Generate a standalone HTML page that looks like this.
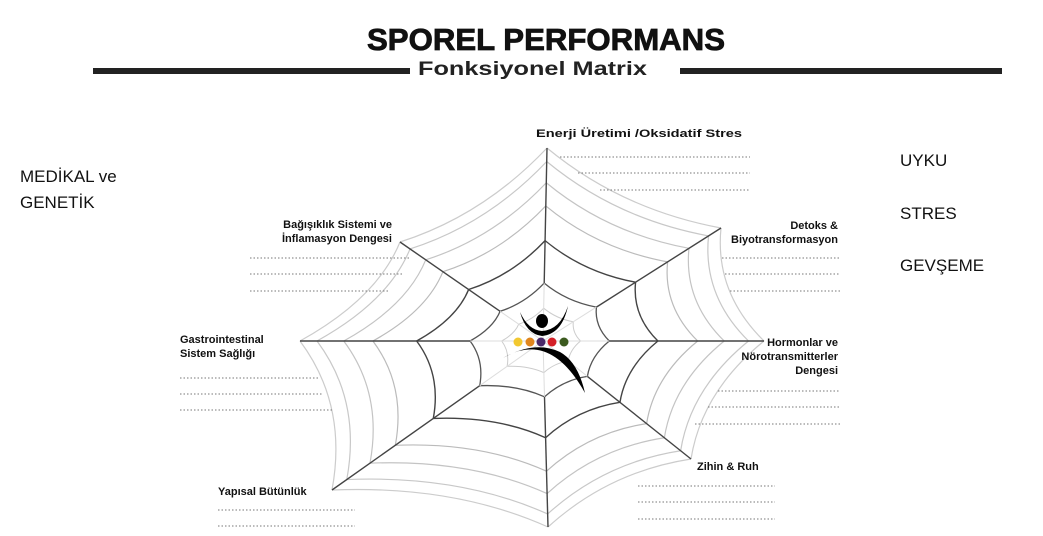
<!DOCTYPE html>
<html><head><meta charset="utf-8"><style>
html,body{margin:0;padding:0;background:#fff;width:1043px;height:536px;overflow:hidden}
svg{display:block}
text{font-family:"Liberation Sans","DejaVu Sans",sans-serif}
.b{font-weight:bold;font-size:11px;fill:#111}
.n{font-size:17px;fill:#111}
.d{stroke:#777;stroke-width:1;stroke-dasharray:1.5 2}
</style></head><body>
<svg id="s" width="1043" height="536" viewBox="0 0 1043 536" xmlns="http://www.w3.org/2000/svg">
<text x="367" y="50" font-size="31" font-weight="bold" textLength="358" lengthAdjust="spacingAndGlyphs" fill="#111" stroke="#111" stroke-width="0.8">SPOREL PERFORMANS</text>
<rect x="93" y="68" width="317" height="6" fill="#222"/>
<rect x="680" y="68" width="322" height="6" fill="#222"/>
<text x="418" y="75" font-size="19" font-weight="bold" textLength="229" lengthAdjust="spacingAndGlyphs" fill="#222">Fonksiyonel Matrix</text>
<g id="web"></g>
<text class="n" x="20" y="182">MEDİKAL ve</text>
<text class="n" x="20" y="208">GENETİK</text>
<text class="n" x="900" y="166">UYKU</text>
<text class="n" x="900" y="219">STRES</text>
<text class="n" x="900" y="271">GEVŞEME</text>
<text class="b" x="536" y="137" textLength="206" lengthAdjust="spacingAndGlyphs">Enerji Üretimi /Oksidatif Stres</text>
<line class="d" x1="560" y1="157" x2="750" y2="157"/><line class="d" x1="578" y1="173" x2="750" y2="173"/><line class="d" x1="600" y1="190" x2="750" y2="190"/>
<text class="b" x="392" y="228" text-anchor="end">Bağışıklık Sistemi ve</text>
<text class="b" x="392" y="242" text-anchor="end">İnflamasyon Dengesi</text>
<line class="d" x1="250" y1="258" x2="410" y2="258"/><line class="d" x1="250" y1="274" x2="403" y2="274"/><line class="d" x1="250" y1="291" x2="389" y2="291"/>
<text class="b" x="838" y="229" text-anchor="end">Detoks &amp;</text>
<text class="b" x="838" y="243" text-anchor="end">Biyotransformasyon</text>
<line class="d" x1="722" y1="258" x2="840" y2="258"/><line class="d" x1="725" y1="274" x2="840" y2="274"/><line class="d" x1="730" y1="291" x2="840" y2="291"/>
<text class="b" x="180" y="343">Gastrointestinal</text>
<text class="b" x="180" y="357">Sistem Sağlığı</text>
<line class="d" x1="180" y1="378" x2="318" y2="378"/><line class="d" x1="180" y1="394" x2="322" y2="394"/><line class="d" x1="180" y1="410" x2="333" y2="410"/>
<text class="b" x="838" y="346" text-anchor="end">Hormonlar ve</text>
<text class="b" x="838" y="360" text-anchor="end">Nörotransmitterler</text>
<text class="b" x="838" y="374" text-anchor="end">Dengesi</text>
<line class="d" x1="718" y1="391" x2="840" y2="391"/><line class="d" x1="708" y1="407" x2="840" y2="407"/><line class="d" x1="695" y1="424" x2="840" y2="424"/>
<text class="b" x="697" y="470">Zihin &amp; Ruh</text>
<line class="d" x1="638" y1="486" x2="775" y2="486"/><line class="d" x1="638" y1="502" x2="775" y2="502"/><line class="d" x1="638" y1="519" x2="775" y2="519"/>
<text class="b" x="218" y="495">Yapısal Bütünlük</text>
<line class="d" x1="218" y1="510" x2="355" y2="510"/><line class="d" x1="218" y1="526" x2="355" y2="526"/>
<g id="fig">
<path d="M520 312 Q526 334 542 336 Q562 334 568 306 Q560 330 542 331 Q528 330 520 312Z" fill="#000"/>
<ellipse cx="542" cy="321" rx="6" ry="7" fill="#000"/>
<path d="M503 358 Q550 330 585 393 Q578 362 560 352 Q535 340 503 358Z" fill="#000"/>
<circle cx="518" cy="342" r="4.5" fill="#f2c830"/>
<circle cx="530" cy="342" r="4.5" fill="#e0861e"/>
<circle cx="541" cy="342" r="4.5" fill="#4b2a6a"/>
<circle cx="552" cy="342" r="4.5" fill="#d42027"/>
<circle cx="564" cy="342" r="4.5" fill="#3c5a1f"/>
</g>
</svg>
<script>
var C=[543,341];
var E=[[547,148],[721,228],[764,341],[691,459],[548,527],[332,490],[300,341],[400,242]];
var g=document.getElementById('web'),h='';
function P(i,f){return [C[0]+(E[i][0]-C[0])*f,C[1]+(E[i][1]-C[1])*f];}
var rings=[[0.17,'#ccc',1],[0.3,'#555',1.3],[0.52,'#444',1.4],[0.7,'#bbb',1.2],[0.82,'#c4c4c4',1.2],[0.93,'#c8c8c8',1.2],[1.0,'#ccc',1.2]];
rings.forEach(function(r){
 for(var i=0;i<8;i++){var a=P(i,r[0]),b=P((i+1)%8,r[0]);
  var m=[(a[0]+b[0])/2,(a[1]+b[1])/2];var k=0.86;
  var c=[C[0]+(m[0]-C[0])*k,C[1]+(m[1]-C[1])*k];
  h+='<path d="M'+a[0]+' '+a[1]+' Q'+c[0]+' '+c[1]+' '+b[0]+' '+b[1]+'" fill="none" stroke="'+r[1]+'" stroke-width="'+r[2]+'"/>';}
});
E.forEach(function(e,i){var s=P(i,0.3);
 h+='<line x1="'+C[0]+'" y1="'+C[1]+'" x2="'+s[0]+'" y2="'+s[1]+'" stroke="#ddd" stroke-width="1"/>';
 h+='<line x1="'+s[0]+'" y1="'+s[1]+'" x2="'+e[0]+'" y2="'+e[1]+'" stroke="#444" stroke-width="1.4"/>';});
g.innerHTML=h;
</script>
</body></html>
